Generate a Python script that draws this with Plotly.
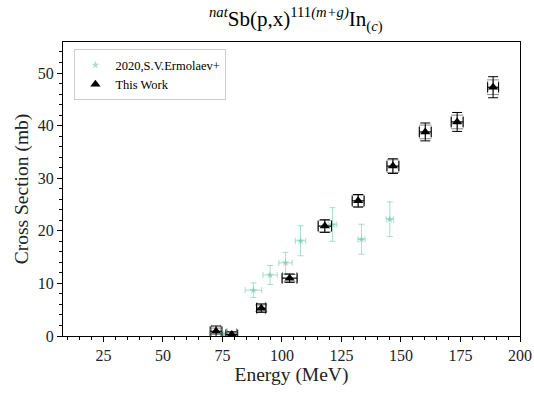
import plotly.graph_objects as go

# This Work
this_E = [72.3, 78.9, 91.3, 103.2, 118.0, 132.0, 146.6, 160.2, 173.6, 188.7]
this_cs = [0.9, 0.3, 5.3, 11.0, 20.9, 25.7, 32.3, 38.8, 40.7, 47.3]
this_dE = [2.5, 2.5, 2.0, 3.2, 2.8, 2.5, 2.5, 2.5, 2.5, 2.3]
this_dcs = [1.0, 0.5, 0.8, 0.8, 1.2, 1.2, 1.4, 1.7, 1.8, 2.0]
this_box_dE = [2.0, 2.0, 1.8, 3.0, 2.8, 2.5, 2.5, 2.5, 2.5, 2.3]
this_box_dcs = [0.6, 0.3, 0.6, 0.7, 1.1, 1.1, 1.2, 1.3, 1.3, 1.4]

# 2020, S.V.Ermolaev+
erm_E = [75.5, 88.0, 95.0, 101.5, 107.8, 121.2, 133.4, 145.3]
erm_cs = [0.3, 8.7, 11.6, 13.9, 18.1, 21.2, 18.4, 22.2]
erm_dE = [1.0, 3.5, 3.0, 2.8, 2.2, 1.8, 1.5, 1.5]
erm_dcs = [0.3, 1.4, 1.8, 2.0, 2.85, 3.2, 2.85, 3.3]

teal = "rgba(102,194,165,0.55)"
serif = "Liberation Serif, DejaVu Serif, serif"

fig = go.Figure()

fig.add_trace(go.Scatter(
    x=erm_E, y=erm_cs, mode="markers", name="2020,S.V.Ermolaev+",
    marker=dict(symbol="star", size=6, color=teal),
    error_x=dict(type="data", array=erm_dE, color=teal, thickness=1, width=3),
    error_y=dict(type="data", array=erm_dcs, color=teal, thickness=1, width=3),
))

fig.add_trace(go.Scatter(
    x=this_E, y=this_cs, mode="markers", showlegend=False,
    marker=dict(symbol="triangle-up", size=1, color="rgba(0,0,0,0)"),
    error_x=dict(type="data", array=this_box_dE, color="#888888", thickness=1, width=6),
    error_y=dict(type="data", array=this_box_dcs, color="#888888", thickness=1, width=6),
))

fig.add_trace(go.Scatter(
    x=this_E, y=this_cs, mode="markers", name="This Work",
    marker=dict(symbol="triangle-up", size=9, color="black"),
    error_x=dict(type="data", array=this_dE, color="black", thickness=1, width=5),
    error_y=dict(type="data", array=this_dcs, color="black", thickness=1, width=5),
))

axis_common = dict(
    showline=True, linecolor="black", linewidth=1.2, mirror=True,
    ticks="outside", ticklen=5, tickwidth=1, tickcolor="black",
    showgrid=False, zeroline=False, automargin=False,
    tickfont=dict(family=serif, size=16, color="#222"),
)

fig.update_layout(
    width=534, height=394,
    margin=dict(l=63, r=14, t=42, b=58, autoexpand=False),
    paper_bgcolor="white", plot_bgcolor="white",
    title=dict(
        text="<sup><i>nat</i></sup>Sb(p,x)<sup>111<i>(m+g)</i></sup>In<sub>(<i>c</i>)</sub>",
        x=0.554, xanchor="center", y=0.952, yanchor="middle",
        font=dict(family=serif, size=21, color="black"),
        automargin=False,
    ),
    xaxis=dict(
        range=[8, 200], tickvals=[25, 50, 75, 100, 125, 150, 175, 200],
        minor=dict(ticks="outside", ticklen=3, dtick=5, tick0=0, tickcolor="black"),
        title=dict(text="Energy (MeV)", font=dict(family=serif, size=19.5, color="#222"), standoff=3),
        **axis_common,
    ),
    yaxis=dict(
        range=[0, 55.9], tickvals=[0, 10, 20, 30, 40, 50],
        minor=dict(ticks="outside", ticklen=3, dtick=2, tick0=0, tickcolor="black"),
        title=dict(text="Cross Section (mb)", font=dict(family=serif, size=19.5, color="#222"), standoff=3),
        **axis_common,
    ),
    legend=dict(
        x=0.025, y=0.975, xanchor="left", yanchor="top",
        bgcolor="rgba(255,255,255,0.8)", bordercolor="#cccccc", borderwidth=1,
        font=dict(family=serif, size=12.5, color="black"),
        itemsizing="trace", tracegroupgap=0, itemwidth=30,
    ),
    showlegend=True,
)

fig.write_html("out.html", config={"displayModeBar": False},
               post_script="document.body.style.margin='0px';")
